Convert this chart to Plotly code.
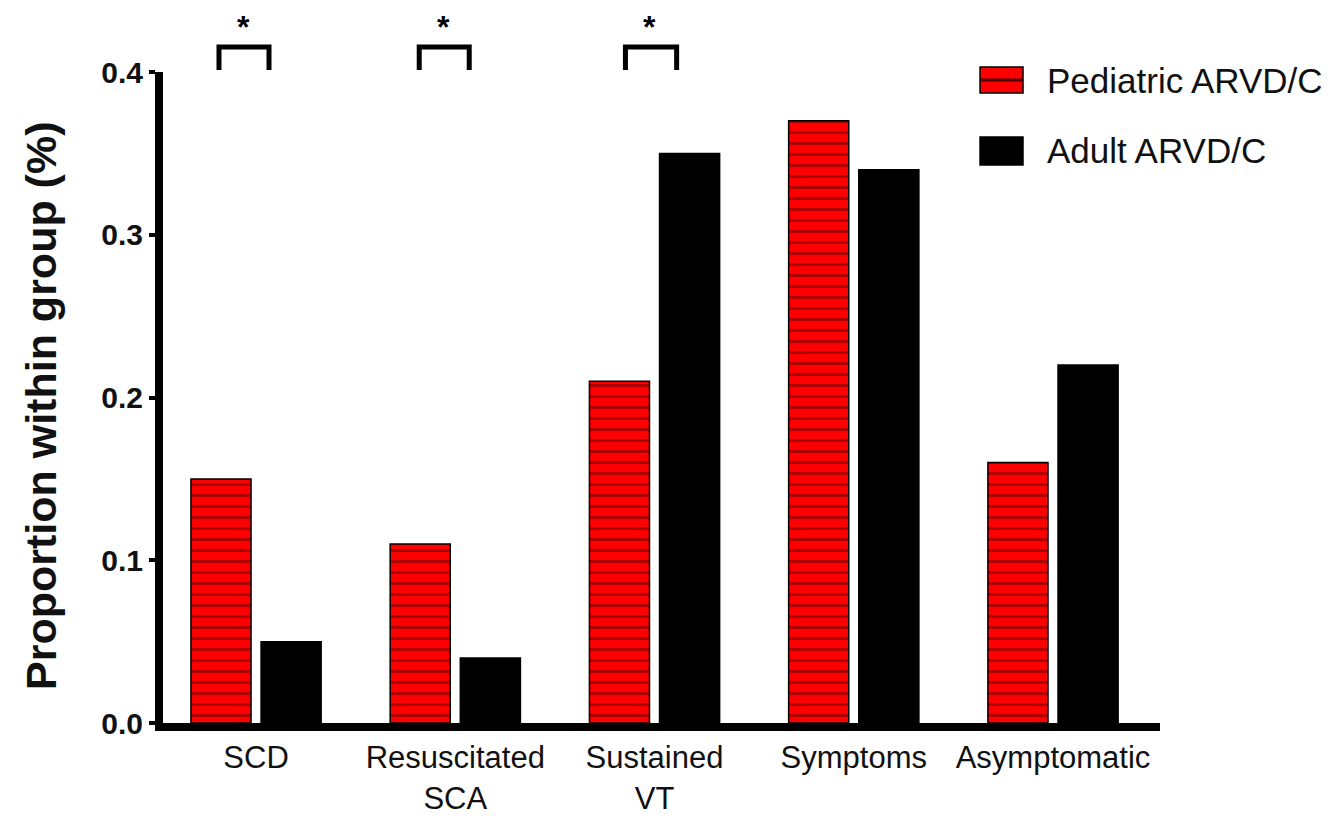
import plotly.graph_objects as go

# Outcome categories and group proportions
categories = ["SCD", "Resuscitated<br>SCA", "Sustained<br>VT", "Symptoms", "Asymptomatic"]
pediatric = [0.15, 0.11, 0.21, 0.37, 0.16]
adult = [0.05, 0.04, 0.35, 0.34, 0.22]
series_names = ["Pediatric ARVD/C", "Adult ARVD/C"]
y_ticks = [0.0, 0.1, 0.2, 0.3, 0.4]

# Significance brackets: category index and left/right/star offsets
sig_index = [0, 1, 2]
sig_left = [-0.186, -0.181, -0.146]
sig_right = [0.065, 0.070, 0.111]
sig_star = [-0.065, -0.060, -0.025]

FONT = "Arial, Liberation Sans, sans-serif"
RED = "#ff0000"
STRIPE = "#4a0000"

fig = go.Figure()
fig.add_trace(go.Bar(
    x=categories, y=pediatric, name=series_names[0],
    marker=dict(color=RED, line=dict(color="#000000", width=1.5),
                pattern=dict(shape="-", fgcolor=STRIPE, bgcolor=RED,
                             size=11, solidity=0.25)),
    showlegend=False,
))
fig.add_trace(go.Bar(
    x=categories, y=adult, name=series_names[1],
    marker=dict(color="#000000", line=dict(color="#000000", width=1.5)),
    showlegend=False,
))

shapes = []
annotations = []

# significance brackets with stars
for idx, l, r, s in zip(sig_index, sig_left, sig_right, sig_star):
    x0, x1 = idx + l, idx + r
    shapes.append(dict(
        type="path", xref="x", yref="paper",
        path=f"M {x0},1.003 L {x0},1.0384 L {x1},1.0384 L {x1},1.003",
        line=dict(color="#000000", width=5),
    ))
    annotations.append(dict(
        x=idx + s, y=1.069, xref="x", yref="paper", text="<b>*</b>",
        showarrow=False, xanchor="center", yanchor="middle",
        font=dict(family=FONT, size=32, color="#000000"),
    ))

# legend swatches and labels
leg_rows = [(1.0077, 0.9677), (0.9002, 0.8571)]
leg_y_text = [0.9877, 0.8787]
for i, ((ytop, ybot), ytxt) in enumerate(zip(leg_rows, leg_y_text)):
    fill = RED if i == 0 else "#000000"
    shapes.append(dict(
        type="rect", xref="paper", yref="paper",
        x0=0.8195, x1=0.8626, y0=ybot, y1=ytop,
        fillcolor=fill, line=dict(color="#000000", width=1.5),
    ))
    if i == 0:
        ymid = (ytop + ybot) / 2
        shapes.append(dict(
            type="line", xref="paper", yref="paper",
            x0=0.8205, x1=0.8616, y0=ymid, y1=ymid,
            line=dict(color=STRIPE, width=3),
        ))
    annotations.append(dict(
        x=0.8847, y=ytxt, xref="paper", yref="paper", text=series_names[i],
        showarrow=False, xanchor="left", yanchor="middle",
        font=dict(family=FONT, size=35, color="#111111"),
    ))

# y-axis title
annotations.append(dict(
    x=0, y=0.487, xref="paper", yref="paper", xshift=-122,
    text="<b>Proportion within group (%)</b>", textangle=-90,
    showarrow=False, xanchor="center", yanchor="middle",
    font=dict(family=FONT, size=43, color="#111111"),
))

fig.update_layout(
    width=1336, height=822,
    margin=dict(l=163, r=176, t=72, b=99, pad=0),
    paper_bgcolor="#ffffff", plot_bgcolor="#ffffff",
    barmode="group", bargap=0.296, bargroupgap=0.143,
    shapes=shapes, annotations=annotations,
    font=dict(family=FONT, color="#111111"),
)
fig.update_xaxes(
    range=[-0.467, 4.537], automargin=False,
    showline=True, linecolor="#000000", linewidth=8,
    ticks="", showgrid=False, zeroline=False,
    tickfont=dict(family=FONT, size=31, color="#111111"),
)
fig.update_yaxes(
    range=[0, 0.4], tickvals=y_ticks, tickformat=".1f", automargin=False,
    showline=True, linecolor="#000000", linewidth=8,
    ticks="outside", ticklen=6, tickwidth=4, tickcolor="#000000",
    showgrid=False, zeroline=False,
    tickfont=dict(family=FONT, size=30, color="#111111", weight="bold"),
)

fig.write_html("out.html")
